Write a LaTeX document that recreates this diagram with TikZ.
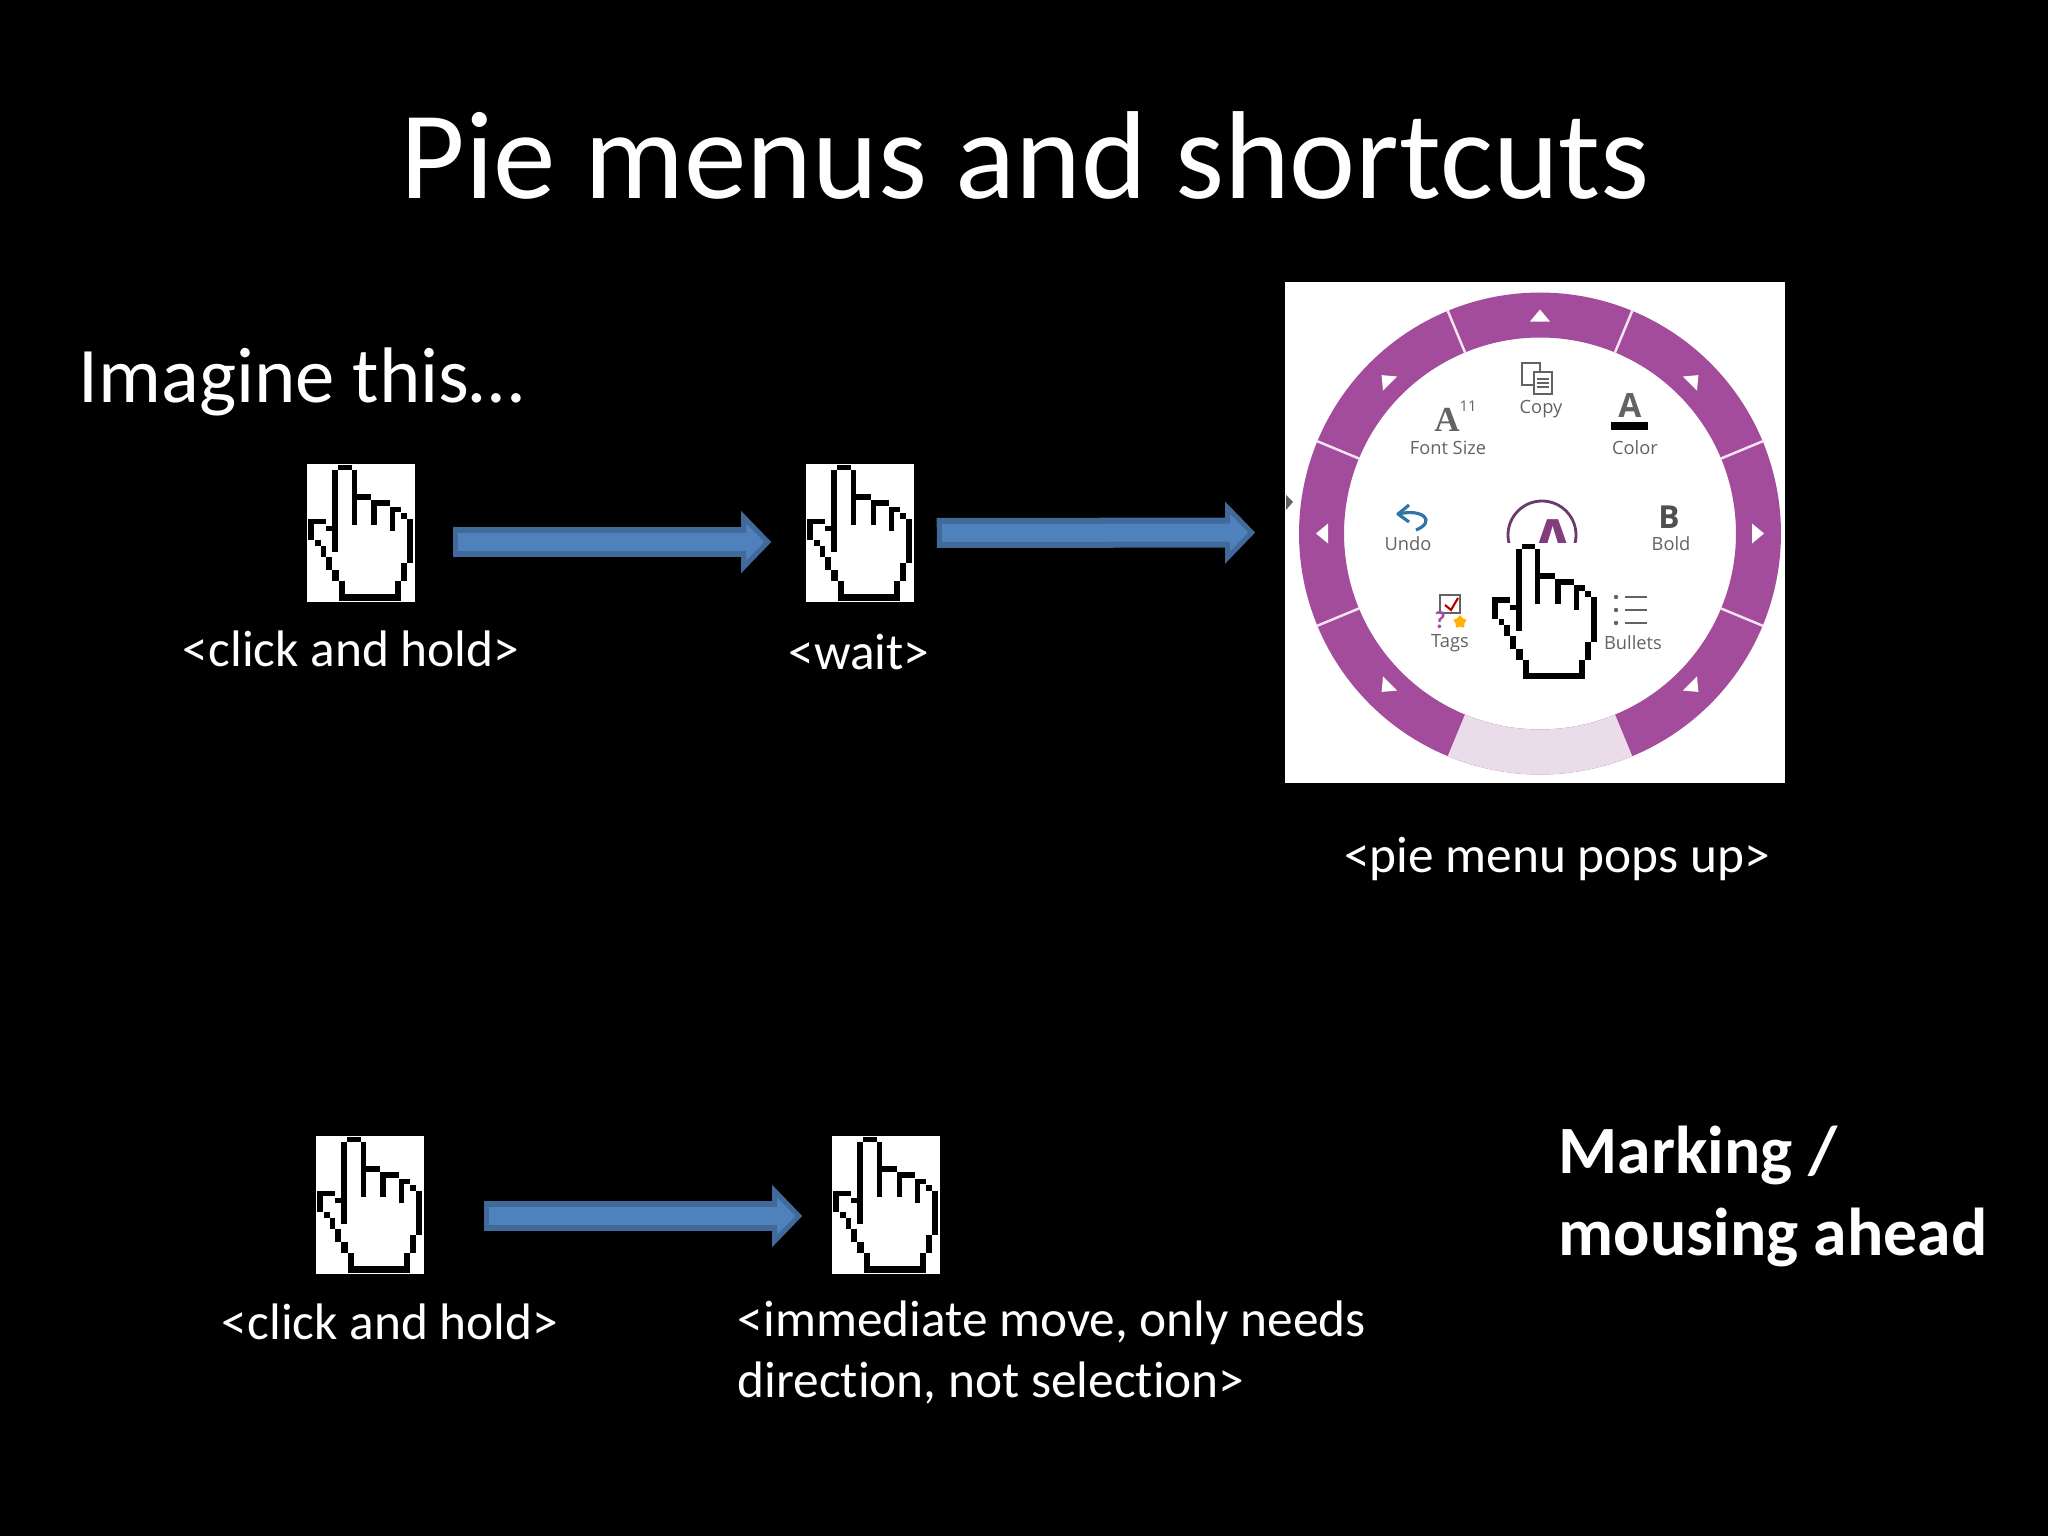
\documentclass[tikz,border=0pt]{standalone}
\usepackage{fontspec}
\usepackage{xcolor}
\usepackage{tikz}
\usetikzlibrary{arrows.meta, shapes.geometric}
\setmainfont{Carlito}[Ligatures=NoCommon]
\newfontfamily\menufont{Open Sans}
\newfontfamily\iconserif{Liberation Serif}

\definecolor{arrowblue}{HTML}{4F81BD}
\definecolor{arrowdark}{HTML}{41699A}
\definecolor{piepurple}{HTML}{A44C9C}
\definecolor{piepale}{HTML}{EBDCEA}
\definecolor{piegap}{HTML}{F6E3F4}
\definecolor{piedark}{HTML}{6B3A6B}
\definecolor{menugrey}{HTML}{636365}
\definecolor{undoblue}{HTML}{2F75A8}

\tikzset{
    handbox/.style={fill=white, minimum width=1.08cm, minimum height=1.38cm, inner sep=0},
    flowarrow/.style 2 args={draw=arrowdark, line width=0.30cm, shorten <=#1, shorten >=#2,
        -{Triangle[length=0.30cm, width=0.61cm, fill=arrowblue, color=arrowdark, line width=1.4pt]},
        postaction={draw=arrowblue, line width=0.18cm, arrows=-, shorten <=#1+0.05cm, shorten >=#2+0.24cm}},
    titletext/.style={text=white, inner sep=0, font=\fontsize{35.6pt}{40pt}\selectfont},
    headtext/.style={text=white, inner sep=0, font=\fontsize{22.4pt}{26pt}\selectfont},
    labeltext/.style={text=white, inner sep=0, font=\fontsize{14.6pt}{17.4pt}\selectfont},
    boldtext/.style={text=white, inner sep=0, font=\fontsize{19.25pt}{23.3pt}\selectfont\bfseries},
    menutext/.style={text=menugrey, inner sep=0, font=\menufont\fontsize{5.2pt}{6pt}\selectfont},
    pics/handcursor/.style={code={
        \begin{scope}[x=0.003333cm, y=-0.003333cm]
            \foreach \xa/\ya/\xb/\yb in {96/5/136/20, 78/20/96/266, 136/20/151/186, 151/93/196/111,
                196/111/251/128, 196/128/213/186, 251/130/286/146, 251/146/266/203, 286/148/303/166,
                303/166/321/301, 286/301/303/355, 266/355/286/393, 98/393/286/413, 98/355/116/393,
                78/320/98/355, 60/283/78/320, 43/248/60/283, 26/230/43/248, 6/166/23/230,
                6/166/60/183, 60/188/78/203}
                \fill[black] (\xa,\ya) rectangle (\xb,\yb);
        \end{scope}
    }}
}

\begin{document}
\begin{tikzpicture}[x=0.01cm, y=-0.01cm]
    \useasboundingbox (0,0) rectangle (2048,1536);
    \fill[black] (0,0) rectangle (2048,1536);

    \node[titletext, anchor=base] (title) at (1025,198) {Pie menus and shortcuts};
    \node[headtext, anchor=base west] (imagine) at (78,402) {Imagine this…};

    \node[handbox] (hand1) at (361,533) {};
    \node[handbox] (hand2) at (860,533) {};
    \node[handbox] (hand3) at (370,1205) {};
    \node[handbox] (hand4) at (886,1205) {};
    \node[fill=white, minimum width=5.00cm, minimum height=5.01cm, inner sep=0] (menu) at (1535,532.5) {};

    % ring of the menu
    \begin{scope}[shift={(1540,533.5)}]
        \foreach \a in {0,45,...,315}
            \fill[piepurple] (\a-22.5:241) arc[start angle=\a-22.5, end angle=\a+22.5, radius=241]
                -- (\a+22.5:196) arc[start angle=\a+22.5, end angle=\a-22.5, radius=196] -- cycle;
        \fill[piepale] (67.5:241) arc[start angle=67.5, end angle=112.5, radius=241]
            -- (112.5:196) arc[start angle=112.5, end angle=67.5, radius=196] -- cycle;
        \foreach \a in {22.5,157.5,202.5,247.5,292.5,337.5}
            \draw[piegap, line width=0.7pt] (\a:195) -- (\a:242);
        \foreach \a in {0,45,90,135,180,225,315}
            \fill[white, rotate=\a] (212,-10) -- (212,10) -- (224,0) -- cycle;
    \end{scope}
    \fill[menugrey] (1286,495) -- (1293,502) -- (1286,510) -- cycle;

    % icons and labels of the menu
    \draw[menugrey, line width=0.35pt, fill=white] (1522,363) rectangle (1540,385);
    \draw[menugrey, line width=0.35pt, fill=white] (1534,372) rectangle (1552,394);
    \draw[menugrey, line width=0.35pt] (1537,379) -- (1549,379) (1537,383) -- (1549,383) (1537,387) -- (1549,387);
    \node[menutext] (copy) at (1541,409) {Copy};

    \node[text=menugrey, inner sep=0, font=\iconserif\fontsize{10pt}{11pt}\selectfont\bfseries] (sizea) at (1447,420) {A};
    \node[menutext, font=\menufont\fontsize{4.2pt}{5pt}\selectfont] (sizeb) at (1468,406) {11};
    \node[menutext] (fontsize) at (1448,448) {Font Size};

    \node[text=menugrey, inner sep=0, font=\menufont\fontsize{9.5pt}{10pt}\selectfont\bfseries] (colora) at (1630,406) {A};
    \fill[black] (1611,422) rectangle (1648,430);
    \node[menutext] (color) at (1635,448) {Color};

    \draw[undoblue, line width=0.9pt, line join=round] (1409,505) -- (1398,514) -- (1409,522);
    \draw[undoblue, line width=0.9pt] (1398,514) .. controls (1424,508) and (1436,522) .. (1416,530);
    \node[menutext] (undo) at (1408,544) {Undo};

    \node[text=menugrey!80!black, inner sep=0, font=\menufont\fontsize{9pt}{10pt}\selectfont\bfseries] (bolda) at (1669,517) {B};
    \node[menutext] (bold) at (1671,544) {Bold};

    \draw[menugrey, line width=0.35pt] (1440,595) rectangle (1460,613);
    \draw[red!70!black, line width=0.6pt] (1445,605) -- (1451,610) -- (1458,598);
    \node[text=piepurple, inner sep=0, font=\fontsize{7pt}{8pt}\selectfont\bfseries] (tagq) at (1440,620) {?};
    \node[star, star points=5, fill=orange!60!yellow, minimum size=0.14cm, inner sep=0] (tagstar) at (1460,622) {};
    \node[menutext] (tags) at (1450,643) {Tags};

    \foreach \y in {597,610,623} {
        \fill[menugrey] (1616,\y) circle (2.2);
        \draw[menugrey, line width=0.35pt] (1625,\y) -- (1647,\y);
    }
    \node[menutext] (bullets) at (1633,643) {Bullets};

    \draw[piedark, line width=0.8pt] (1542,535) circle (34);
    \node[text=piepurple!80!black, inner sep=0, font=\menufont\fontsize{17pt}{18pt}\selectfont\bfseries] (centera) at (1553,541) {A};

    % hands
    \node[handbox, anchor=north west] (hand5) at (1490,542) {};
    \pic at (hand1.north west) {handcursor};
    \pic at (hand2.north west) {handcursor};
    \pic at (hand3.north west) {handcursor};
    \pic at (hand4.north west) {handcursor};
    \pic at (hand5.north west) {handcursor};

    \draw[flowarrow={0.37cm}{0.34cm}] ([yshift=-0.09cm]hand1.east) -- ([yshift=-0.09cm]hand2.west);
    \draw[flowarrow={0.22cm}{0.29cm}] (hand2.east) -- (menu.west);
    \draw[flowarrow={0.59cm}{0.29cm}] ([yshift=-0.11cm]hand3.east) -- ([yshift=-0.11cm]hand4.west);

    \node[labeltext, anchor=base] (hold1) at (351,666) {<click and hold>};
    \node[labeltext, anchor=base] (wait) at (859,669) {<wait>};
    \node[labeltext, anchor=base] (popup) at (1557,872) {<pie menu pops up>};
    \node[labeltext, anchor=base] (hold2) at (390,1339) {<click and hold>};
    \node[labeltext, anchor=base west] (move1) at (737,1336) {<immediate move, only needs};
    \node[labeltext, anchor=base west] (move2) at (737,1397) {direction, not selection>};
    \node[boldtext, anchor=base west] (marking1) at (1558,1173) {Marking /};
    \node[boldtext, anchor=base west] (marking2) at (1558,1255) {mousing ahead};
\end{tikzpicture}
\end{document}
